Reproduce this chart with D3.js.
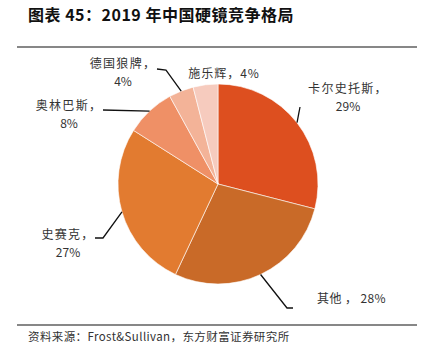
<!DOCTYPE html>
<html><head><meta charset="utf-8">
<script src="https://cdn.jsdelivr.net/npm/d3@7/dist/d3.min.js"></script>
<style>body{margin:0;background:#fff;} svg{display:block;}</style>
</head><body>
<svg id="c" width="427" height="355"></svg>
<script>
// ---- data ----
const categories = ["卡尔史托斯", "其他", "史赛克", "奥林巴斯", "德国狼牌", "施乐辉"];
const shares = [29, 28, 27, 8, 4, 4];
const labelLine1 = ["卡尔史托斯，", "其他 ， 28%", "史赛克，", "奥林巴斯，", "德国狼牌，", "施乐辉，4%"];
const labelLine2 = ["29%", "", "27%", "8%", "4%", ""];
const titleText = "图表 45：2019 年中国硬镜竞争格局";
const sourceText = "资料来源：Frost&Sullivan，东方财富证券研究所";

// ---- style / layout ----
const colors = ["#DD4F1F", "#C96A28", "#E27B30", "#EF9066", "#F3B398", "#F6CBBE"];
const W = 427, H = 355;
const cx = 218, cy = 184, R = 100;
const labelLayout = [
  {x: 348, y: 87, anchor: "middle", ls: 1.3, leader: [[300, 107]]},
  {x: 317, y: 297, anchor: "start", ls: 0.4, leader: [[287, 308], [293, 308]]},
  {x: 68, y: 233, anchor: "middle", ls: 1.3, leader: [[103, 238], [95, 238]]},
  {x: 69, y: 104, anchor: "middle", ls: 1.3, leader: [[103, 110]]},
  {x: 123, y: 62, anchor: "middle", ls: 1.3, leader: [[166, 70], [157, 69]]},
  {x: 224, y: 72, anchor: "middle", ls: 1.0, leader: []}
];

const svg = d3.select("#c");
const font = "'Noto Sans CJK SC', 'Noto Sans', sans-serif";

svg.append("text").attr("x", 28).attr("y", 14).attr("dominant-baseline", "central")
  .attr("font-family", font).attr("font-weight", "bold").attr("font-size", 16)
  .attr("letter-spacing", 0.5).attr("fill", "#111").text(titleText);

svg.append("line").attr("x1", 17).attr("x2", 417).attr("y1", 47).attr("y2", 47)
  .attr("stroke", "#111").attr("stroke-width", 1.2);
svg.append("line").attr("x1", 17).attr("x2", 417).attr("y1", 325).attr("y2", 325)
  .attr("stroke", "#111").attr("stroke-width", 1.2);

svg.append("text").attr("x", 28).attr("y", 336).attr("dominant-baseline", "central")
  .attr("font-family", font).attr("font-size", 11.5).attr("letter-spacing", 0.4)
  .attr("fill", "#333").text(sourceText);

const data = categories.map((c, i) => ({name: c, value: shares[i], i}));
const pie = d3.pie().value(d => d.value).sort(null).startAngle(0).endAngle(2 * Math.PI);
const arcs = pie(data);
const arc = d3.arc().innerRadius(0).outerRadius(R);

const g = svg.append("g").attr("transform", `translate(${cx},${cy})`);
g.selectAll("path").data(arcs).join("path")
  .attr("d", arc).attr("fill", d => colors[d.data.i])
  .attr("stroke", "#fff").attr("stroke-width", 0.6);

arcs.forEach(a => {
  const L = labelLayout[a.data.i];
  if (!L.leader.length) return;
  const m = (a.startAngle + a.endAngle) / 2;
  const p0 = [cx + R * Math.sin(m), cy - R * Math.cos(m)];
  svg.append("path").attr("d", d3.line()([p0, ...L.leader])).attr("fill", "none")
    .attr("stroke", "#111").attr("stroke-width", 1.3);
});

arcs.forEach(a => {
  const i = a.data.i, L = labelLayout[i];
  svg.append("text").attr("x", L.x).attr("y", L.y).attr("text-anchor", L.anchor)
    .attr("dominant-baseline", "central").attr("font-family", font).attr("font-size", 12)
    .attr("letter-spacing", L.ls).attr("fill", "#333").text(labelLine1[i]);
  if (labelLine2[i]) {
    svg.append("text").attr("x", L.x).attr("y", L.y + 18).attr("text-anchor", L.anchor)
      .attr("dominant-baseline", "central").attr("font-family", font).attr("font-size", 12)
      .attr("fill", "#333").text(labelLine2[i]);
  }
});
</script>
</body></html>
